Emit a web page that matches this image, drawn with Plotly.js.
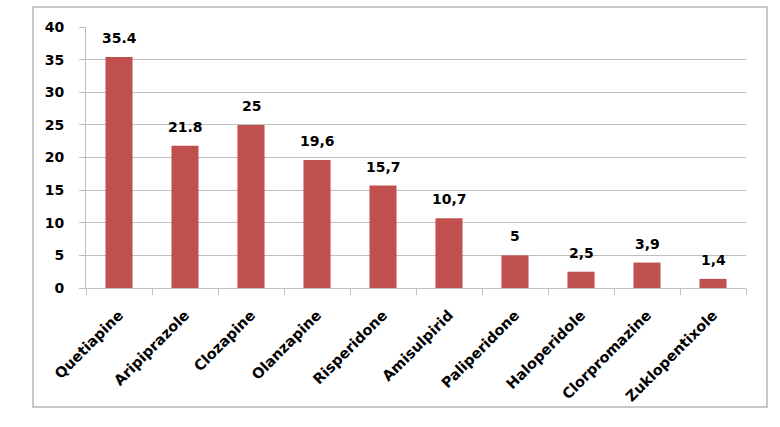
<!DOCTYPE html>
<html>
<head>
<meta charset="utf-8">
<script src="https://cdn.plot.ly/plotly-3.0.1.min.js"></script>
<style>
  html, body { margin: 0; padding: 0; background: #fff; }
  #chart { width: 780px; height: 427px; }
</style>
</head>
<body>
<div id="chart"></div>
<script>
// valeurs
const drugs = ['Quetiapine', 'Aripiprazole', 'Clozapine', 'Olanzapine', 'Risperidone',
  'Amisulpirid', 'Paliperidone', 'Haloperidole', 'Clorpromazine', 'Zuklopentixole'];
const values = [35.4, 21.8, 25, 19.6, 15.7, 10.7, 5, 2.5, 3.9, 1.4];
const valueLabels = ['35.4', '21.8', '25', '19,6', '15,7', '10,7', '5', '2,5', '3,9', '1,4'];

const W = 780, H = 427;
const margin = { l: 86, r: 34, t: 27, b: 139 };
const plotW = W - margin.l - margin.r;
const plotH = H - margin.t - margin.b;
// cadre gris autour du graphique (en pixels -> coordonnees paper)
const px = x => (x - margin.l) / plotW;
const py = y => (H - margin.b - y) / plotH;

const fam = '"DejaVu Sans", sans-serif';
const boldFont = size => ({ family: fam, size: size, color: '#000', weight: 'bold' });

// etiquettes de valeur au-dessus des barres
const labels = drugs.map((d, i) => ({
  x: d,
  y: values[i],
  text: valueLabels[i],
  showarrow: false,
  yanchor: 'bottom',
  yshift: 9,
  font: boldFont(14)
}));

Plotly.newPlot('chart', [{
  type: 'bar',
  x: drugs,
  y: values,
  marker: { color: '#c0504d' },
  width: 0.41,
  hoverinfo: 'x+y'
}], {
  width: W,
  height: H,
  margin: margin,
  paper_bgcolor: '#fff',
  plot_bgcolor: '#fff',
  showlegend: false,
  font: { family: fam, size: 14, color: '#000' },
  xaxis: {
    type: 'category',
    tickson: 'boundaries',
    ticks: 'outside',
    ticklen: 6,
    tickcolor: '#bfbfbf',
    tickangle: -45,
    showline: true,
    linecolor: '#bfbfbf',
    linewidth: 1,
    showgrid: false,
    tickfont: boldFont(14.5),
    ticklabelstandoff: 12
  },
  yaxis: {
    range: [0, 40],
    dtick: 5,
    ticks: 'outside',
    ticklen: 6,
    tickcolor: '#bfbfbf',
    showline: true,
    linecolor: '#bfbfbf',
    gridcolor: '#bfbfbf',
    gridwidth: 1,
    zeroline: false,
    tickfont: boldFont(14),
    ticklabelstandoff: 12
  },
  annotations: labels,
  shapes: [{
    type: 'rect',
    xref: 'paper', yref: 'paper',
    x0: px(33), x1: px(767), y0: py(407), y1: py(7),
    line: { color: '#c8c8c8', width: 2 },
    layer: 'below'
  }]
}, { displayModeBar: false, staticPlot: true });
</script>
</body>
</html>
